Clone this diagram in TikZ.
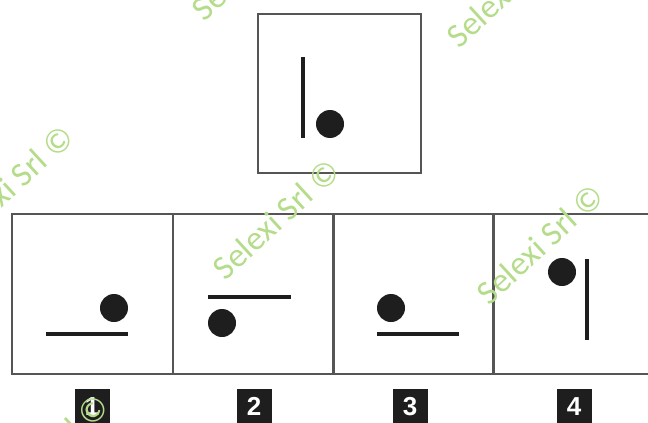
\documentclass[tikz,border=0pt]{standalone}
\usepackage{fontspec}
\setmainfont{Liberation Sans}
\newfontfamily\wmfont{Carlito}
\definecolor{frame}{HTML}{555555}
\definecolor{ink}{HTML}{1E1E1E}
\definecolor{wm}{RGB}{180,220,138}
\tikzset{
  panel/.style={draw=frame, line width=2pt, minimum width=161pt, minimum height=160pt, inner sep=0pt},
  stroke/.style={draw=ink, line width=3.8pt},
  dot/.style={fill=ink},
  numbox/.style={fill=ink, text=white, font=\bfseries\fontsize{26}{26}\selectfont, minimum width=35pt, minimum height=34pt, inner sep=0pt, anchor=north},
  wmark/.style={text=wm, font=\wmfont\fontsize{34}{34}\selectfont, rotate=42.5, inner sep=0pt}
}
\begin{document}
\begin{tikzpicture}[x=1pt,y=-1pt]
\useasboundingbox (0,0) rectangle (648,423);
\clip (0,0) rectangle (648,423);
% question box
\node[panel, minimum width=163pt, minimum height=159pt] (q) at (339.5,93.5) {};
\draw[stroke] (303,57) -- (303,138);
\fill[dot] (330,124) circle (14);
% answer panels
\node[panel] (p1) at (92,294) {};
\node[panel] (p2) at (253,294) {};
\node[panel] (p3) at (413,294) {};
\node[panel, minimum width=170pt] (p4) at (578,294) {};
% panel 1
\draw[stroke] (46,334) -- (128,334);
\fill[dot] (114,308) circle (14);
% panel 2
\draw[stroke] (208,297) -- (291,297);
\fill[dot] (222,323) circle (14);
% panel 3
\draw[stroke] (377,334) -- (459,334);
\fill[dot] (391,308) circle (14);
% panel 4
\draw[stroke] (587,259) -- (587,340);
\fill[dot] (562,272) circle (14);
% labels
\node[numbox] (n1) at (92,389) {1};
\node[numbox] (n2) at (254,389) {2};
\node[numbox] (n3) at (410,389) {3};
\node[numbox] (n4) at (574,389) {4};
% watermarks
\node[wmark] (w1) at (276,219) {Selexi Srl ©};
\node[wmark] (w2) at (540,244) {Selexi Srl ©};
\node[wmark] (w3) at (10,185) {Selexi Srl ©};
\node[wmark] (w4) at (510,-13) {Selexi Srl ©};
\node[wmark] (w5) at (255,-40) {Selexi Srl ©};
\node[wmark] (w6) at (45,454) {Selexi Srl ©};
\node[wmark] (w7) at (300,485) {Selexi Srl ©};
\end{tikzpicture}
\end{document}
